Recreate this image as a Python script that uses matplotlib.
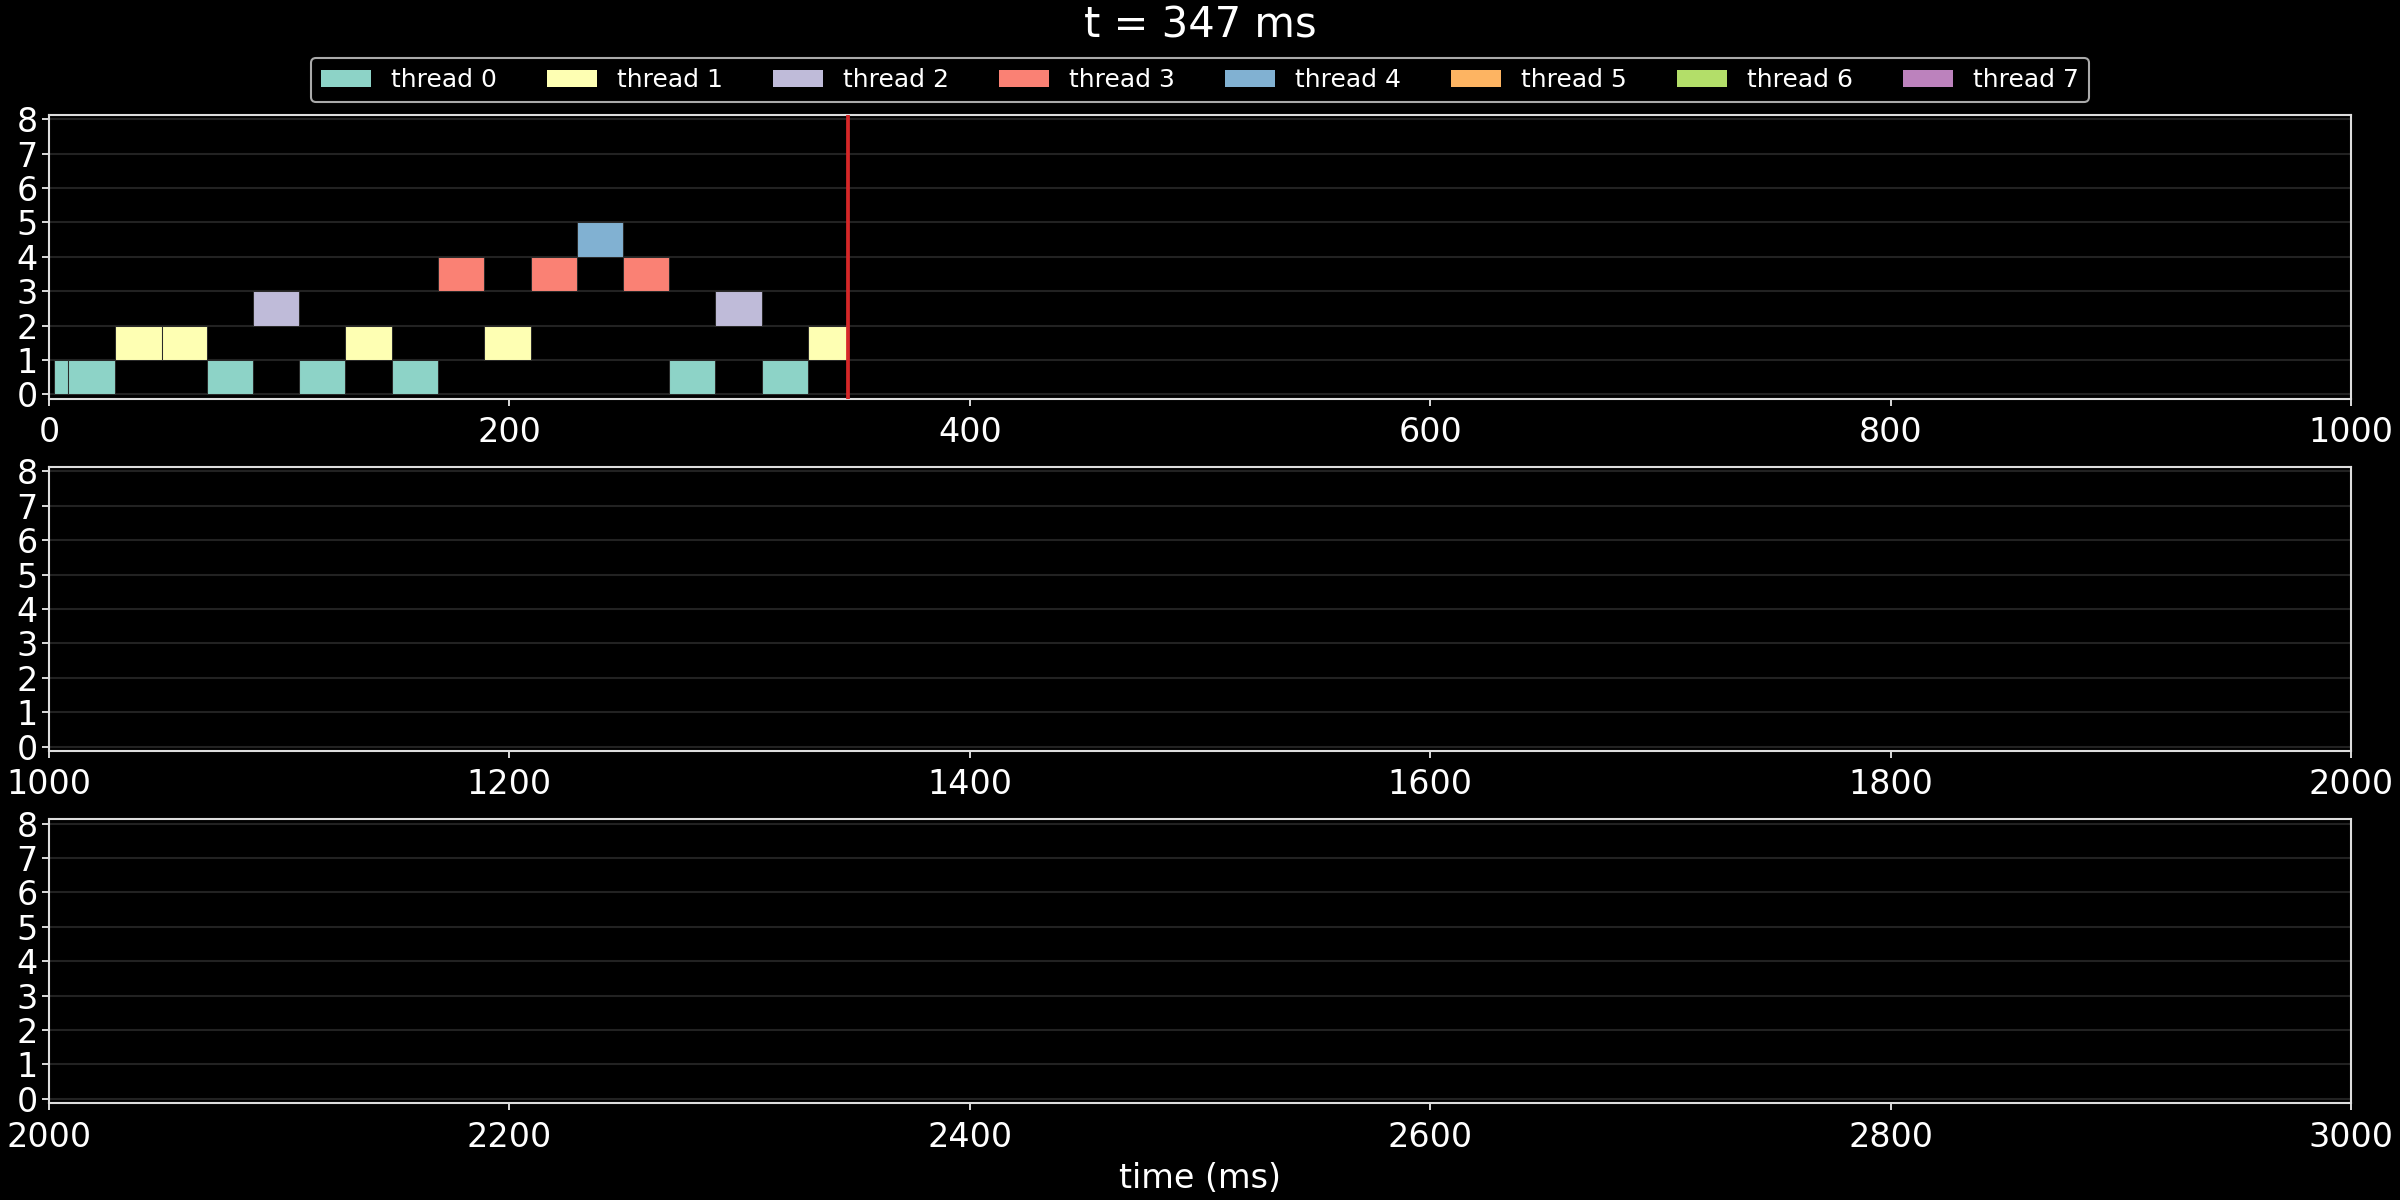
import matplotlib
matplotlib.use("Agg")
import matplotlib.pyplot as plt
from matplotlib.patches import Patch

plt.style.use("dark_background")

# current time marker
t_now = 347

# one row per bar: thread id, start (ms), end (ms)
bar_thread = [0, 0, 1, 1, 0, 2, 0, 1, 0, 3, 1, 3, 4, 3, 0, 2, 0, 1]
bar_start = [2.3, 8.4, 28.7, 48.9, 68.7, 88.7, 108.7, 128.8, 148.9,
             169.1, 189.1, 209.2, 229.2, 249.3, 269.5, 289.5, 309.6, 329.7]
bar_end = [8.4, 28.7, 48.9, 68.7, 88.7, 108.7, 128.8, 148.9, 169.0,
           189.1, 209.2, 229.2, 249.3, 269.5, 289.5, 309.6, 329.7, 347.0]

n_threads = 8
thread_names = ["thread %d" % i for i in range(n_threads)]
colors = ["#8dd3c7", "#feffb3", "#bfbbd9", "#fa8174",
          "#81b1d2", "#fdb462", "#b3de69", "#bc82bd"]

panel_ranges = [(0, 1000), (1000, 2000), (2000, 3000)]

fig, axes = plt.subplots(3, 1, figsize=(16, 8), dpi=150)
fig.patch.set_facecolor("black")
fig.subplots_adjust(left=0.0204, right=0.9796, top=0.904, bottom=0.081, hspace=0.243)

for ax, (lo, hi) in zip(axes, panel_ranges):
    ax.set_facecolor("black")
    for th, s, e in zip(bar_thread, bar_start, bar_end):
        if e <= lo or s >= hi:
            continue
        ax.barh(th, e - s, left=s, height=1.0, align="edge",
                color=colors[th], edgecolor="#2a2a2a", linewidth=0.5, zorder=2)
    if lo <= t_now <= hi:
        ax.axvline(t_now, color="#d62728", linewidth=1.8, zorder=3)
    ax.set_xlim(lo, hi)
    ax.set_ylim(-0.12, 8.12)
    ax.set_yticks(range(0, 9))
    ax.set_xticks(range(lo, hi + 1, 200))
    ax.yaxis.grid(True, color="#222222", linewidth=1.0, zorder=0)
    ax.xaxis.grid(False)
    ax.set_axisbelow(True)
    ax.tick_params(labelsize=16, colors="white")
    ax.tick_params(axis="x", pad=5)
    ax.tick_params(axis="y", pad=2)
    for sp in ax.spines.values():
        sp.set_color("#dddddd")
        sp.set_linewidth(1.0)

axes[-1].set_xlabel("time (ms)", fontsize=16, labelpad=4)

handles = [Patch(facecolor=c, edgecolor="none") for c in colors]
fig.legend(handles, thread_names, loc="center", bbox_to_anchor=(0.5, 0.933),
           ncol=n_threads, fontsize=12, frameon=True, facecolor="black",
           edgecolor="#aaaaaa", framealpha=1.0, columnspacing=2.0)

fig.suptitle("t = %d ms" % t_now, fontsize=20, y=0.996, va="top", color="white")

fig.savefig("out.png", dpi=150, facecolor="black")
